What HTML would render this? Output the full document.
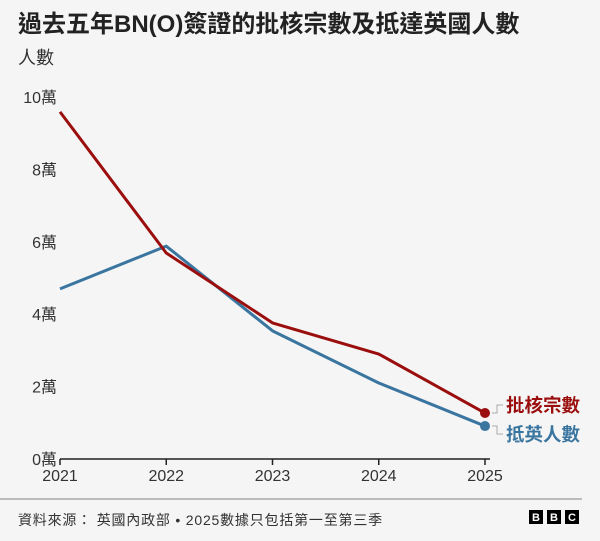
<!DOCTYPE html>
<html><head><meta charset="utf-8"><style>
body{margin:0;background:#f5f5f5;width:600px;height:541px;overflow:hidden;font-family:"Liberation Sans","Noto Sans CJK TC",sans-serif;}
</style></head><body>
<svg width="600" height="541" style="position:absolute;left:0;top:0">
<text x="18" y="32" font-size="24" font-weight="bold" fill="#222" font-family="Liberation Sans,Noto Sans CJK TC,sans-serif">過去五年BN(O)簽證的批核宗數及抵達英國人數</text>
<text x="18" y="64" font-size="18" fill="#333" font-family="Liberation Sans,Noto Sans CJK TC,sans-serif">人數</text>
<g id="yaxis"></g>
<g id="xaxis"></g>
<g id="series"></g>
<line x1="0" y1="499" x2="582" y2="499" stroke="#aaa" stroke-width="1.5"/>
<text x="18" y="525" font-size="14" fill="#333" letter-spacing="0.8" font-family="Liberation Sans,Noto Sans CJK TC,sans-serif">資料來源： 英國內政部 • 2025數據只包括第一至第三季</text>
<g font-family="Liberation Sans,sans-serif" font-weight="bold" font-size="11" fill="#fff" text-anchor="middle">
<rect x="529" y="510" width="14" height="14" fill="#000"/><text x="536" y="521">B</text>
<rect x="547" y="510" width="14" height="14" fill="#000"/><text x="554" y="521">B</text>
<rect x="565" y="510" width="14" height="14" fill="#000"/><text x="572" y="521">C</text>
</g>
</svg>
<script>
const years=["2021","2022","2023","2024","2025"];
const approved=[9.59,5.69,3.76,2.90,1.27];
const arrived=[4.70,5.88,3.54,2.10,0.91];
const yTicks=[0,2,4,6,8,10];
const yLabels=["0萬","2萬","4萬","6萬","8萬","10萬"];
const NS="http://www.w3.org/2000/svg";
const x=i=>60+i*106.25;
const y=v=>459-v*36.2;
function mk(t,a,p){const e=document.createElementNS(NS,t);for(const k in a)e.setAttribute(k,a[k]);p.appendChild(e);return e;}
const ya=document.getElementById('yaxis');
yTicks.forEach((v,i)=>{const t=mk('text',{x:57,y:y(v)+6,'font-size':16,fill:'#333','text-anchor':'end'},ya);t.textContent=yLabels[i];

});
const xa=document.getElementById('xaxis');
const ax=mk('line',{x1:x(0),y1:459,x2:x(4)+5,y2:459,stroke:'#222','stroke-width':1.5},xa);


years.forEach((yr,i)=>{const tk=mk('line',{x1:x(i),y1:459,x2:x(i),y2:465,stroke:'#222','stroke-width':1.5},xa);


const t=mk('text',{x:x(i),y:481,'font-size':16,fill:'#333','text-anchor':'middle'},xa);t.textContent=yr;

});
const sg=document.getElementById('series');
function line(vals,col,name){const p=mk('polyline',{points:vals.map((v,i)=>x(i)+','+y(v)).join(' '),fill:'none',stroke:col,'stroke-width':3,'stroke-linejoin':'round'},sg);


const c=mk('circle',{cx:x(4),cy:y(vals[4]),r:5,fill:col},sg);

}
line(arrived,'#3a75a0','arrived');
line(approved,'#9b0e0e','approved');
function label(v,dy,txt,col,name){const ly=y(v);
mk('polyline',{points:`${x(4)+7},${ly} ${x(4)+12},${ly} ${x(4)+12},${ly+dy} ${x(4)+18},${ly+dy}`,fill:'none',stroke:'#aaa','stroke-width':1},sg);
const t=mk('text',{x:x(4)+21,y:ly+dy+7,'font-size':18.5,'font-weight':'bold',fill:col},sg);t.textContent=txt;

}
label(approved[4],-8,'批核宗數','#9b0e0e','approved');
label(arrived[4],8,'抵英人數','#3a75a0','arrived');
</script>
</body></html>
